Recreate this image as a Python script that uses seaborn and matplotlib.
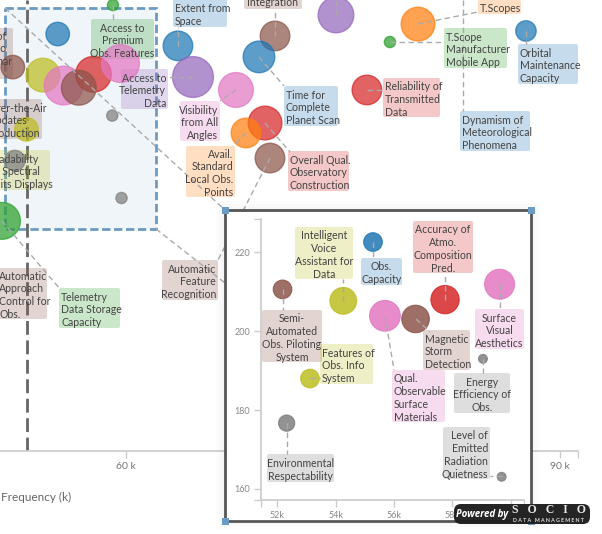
import pandas as pd
import seaborn as sns
import matplotlib.pyplot as plt
from matplotlib.patches import FancyBboxPatch, Rectangle
from matplotlib.transforms import Affine2D

# data
names = ["Access to Premium Obs. Features", "Telemetry Data Storage Capacity", "Extent from Space",
         "Access to Telemetry Data", "Visibility from All Angles", "Overall Qual. Observatory Construction",
         "Avail. Standard Local Obs. Points", "Automatic Feature Recognition", "Integration",
         "Time for Complete Planet Scan", "Unlabelled", "T.Scopes", "T.Scope Manufacturer Mobile App",
         "Orbital Maintenance Capacity", "Reliability of Transmitted Data",
         "Obs. Capacity", "Semi-Automated Obs. Piloting System", "Intelligent Voice Assistant for Data",
         "Qual. Observable Surface Materials", "Accuracy of Atmo. Composition Pred.", "Magnetic Storm Detection",
         "Surface Visual Aesthetics", "Energy Efficiency of Obs.", "Features of Obs. Info System",
         "Environmental Respectability", "Level of Emitted Radiation Quietness"]
frequency = [59.1, 51.43, 63.59, 64.63, 67.6, 69.61, 68.29, 69.95, 70.3, 69.19, 74.51, 80.18, 78.24, 87.64, 76.65,
             55.28, 52.18, 54.26, 55.69, 57.75, 56.74, 59.62, 59.05, 53.12, 52.32, 59.69]
score = [233.1, 154.8, 218.3, 207, 202.3, 190.3, 186.7, 177.6, 221.9, 214.3, 229.5, 226.2, 219.7, 223.7, 202.3,
         222.6, 210.6, 207.7, 203.9, 208, 203.1, 211.9, 193, 188, 176.7, 163.1]
weight = [12, 130, 84, 160, 116, 109, 84, 84, 84, 96, 122, 109, 12, 40, 84,
          53, 53, 109, 144, 122, 116, 137, 12, 53, 40, 12]
group = ["green", "green", "blue", "purple", "pink", "red", "orange", "brown", "brown", "blue", "purple",
         "orange", "green", "blue", "red",
         "blue", "brown", "olive", "pink", "red", "brown", "pink", "gray", "olive", "gray", "gray"]
mean_frequency = 53.16
main_ticks = [60, 90]
inset_xticks = [52, 54, 56, 58, 60]
inset_yticks = [160, 180, 200, 220]

colors = {"blue": "#1f77b4", "orange": "#ff7f0e", "green": "#2ca02c", "red": "#d62728", "purple": "#9467bd",
          "brown": "#8c564b", "pink": "#e377c2", "gray": "#7f7f7f", "olive": "#bcbd22"}

df = pd.DataFrame({"name": names, "frequency": frequency, "score": score, "weight": weight, "group": group})
zoomed = df.iloc[15:]

sns.set_theme(style="white")
plt.rcParams["font.family"] = ["Lato", "DejaVu Sans"]

W, H = 602, 534
fig = plt.figure(figsize=(W / 100, H / 100), dpi=100)
px = Affine2D().scale(1, -1).translate(0, H)  # picture pixels, y going down


def axes_box(left, top, right, bottom):
    return [left / W, (H - bottom) / H, (right - left) / W, (bottom - top) / H]


def label(ax, text, color, x0, y0, x1, y1, ha="left"):
    # rounded label box with its lines of text
    ax.add_patch(FancyBboxPatch((x0 + 2, y0 + 2), x1 - x0 - 4, y1 - y0 - 4, boxstyle="round,pad=2",
                                fc=colors[color], ec="none", alpha=0.25, transform=px, clip_on=False, zorder=2))
    tx = {"left": x0 + 2, "center": (x0 + x1) / 2, "right": x1 - 2}[ha]
    ax.text(tx, (y0 + y1) / 2, text, color="#444444", fontsize=7.6, ha=ha, va="center_baseline", ma=ha,
            linespacing=1.2, transform=px, clip_on=False, zorder=6)


def leader(ax, x0, y0, x1, y1):
    ax.plot([x0, x1], [y0, y1], color="#aaaaaa", lw=1, ls=(0, (4, 2.5)), transform=px, clip_on=False, zorder=5)


# main chart
ax = fig.add_axes(axes_box(0, 0, 578, 451))
ax.set_xlim(60 - 126 / 14.47, 60 + 452 / 14.47)
ax.set_ylim(163.1 - 253 / 2.756, 163.1 + 198 / 2.756)
ax.patch.set_alpha(0)

ax.add_patch(Rectangle((5, 8), 151, 221, fc="#4682b4", alpha=0.08, ec="none", transform=px, zorder=0.5))
ax.add_patch(Rectangle((5, 8), 151, 221, fc="none", ec="#6a9bc3", lw=2, ls=(0, (3, 1.3)), transform=px, zorder=0.6))
ax.axvline(mean_frequency, color="#666666", lw=2, ls=(0, (5, 2)), zorder=1)

sns.scatterplot(data=df, x="frequency", y="score", hue="group", palette=colors, size="weight",
                sizes=(0, 5400), size_norm=(0, 1000), alpha=0.72, edgecolor="face", linewidth=1,
                legend=False, ax=ax, zorder=3)

for a, b, c, d in [(113, 5, 113, 19), (178, 46, 178, 27), (275, 36, 275, 9), (193, 77, 168, 77),
                   (236, 90, 220, 101), (259, 57, 284, 86), (265, 123, 290, 152), (246, 133, 233, 146),
                   (270, 158, 217, 262), (367, 90, 384, 90), (418, 24, 478, 12), (390, 42, 444, 42),
                   (526, 31, 526, 44), (463, 0, 463, 111), (2, 221, 60, 289), (336, 15, 336, 0),
                   (5, 8, 225, 210), (156, 229, 225, 283)]:
    leader(ax, a, b, c, d)

label(ax, "Access to\nPremium\nObs. Features", "green", 91, 19, 154, 59, "center")
label(ax, "Extent from\nSpace", "blue", 173, -1, 227, 27)
label(ax, "Integration", "brown", 244, -5, 302, 9, "center")
label(ax, "Access to\nTelemetry\nData", "purple", 121, 69, 168, 109, "right")
label(ax, "Visibility\nfrom All\nAngles", "pink", 180, 101, 220, 141, "right")
label(ax, "Avail.\nStandard\nLocal Obs.\nPoints", "orange", 186, 146, 235, 197, "right")
label(ax, "Time for\nComplete\nPlanet Scan", "blue", 284, 86, 338, 126)
label(ax, "Overall Qual.\nObservatory\nConstruction", "red", 288, 151, 349, 191)
label(ax, "Reliability of\nTransmitted\nData", "red", 383, 78, 440, 117)
label(ax, "T.Scopes", "orange", 478, 0, 521, 14)
label(ax, "T.Scope\nManufacturer\nMobile App", "green", 444, 28, 507, 68)
label(ax, "Orbital\nMaintenance\nCapacity", "blue", 518, 44, 578, 84)
label(ax, "Dynamism of\nMeteorological\nPhenomena", "blue", 460, 111, 530, 151)
label(ax, "Telemetry\nData Storage\nCapacity", "green", 59, 288, 120, 328)
label(ax, "Automatic\nFeature\nRecognition", "brown", 162, 260, 218, 300, "right")
label(ax, "Automatic\nApproach\nControl for\nObs.", "brown", -3, 268, 47, 319)
label(ax, "Time of\nLand to\nTo Lunar\nA", "brown", -31, 28, 13, 79)
label(ax, "Over-the-Air\nUpdates\nProduction", "brown", -14, 99, 42, 139)
label(ax, "Readability\nof  Spectral\nUnits Displays", "olive", -15, 150, 50, 190)

ax.set_xticks(main_ticks, labels=[f"{t} k" for t in main_ticks])
ax.set_xticks([ax.get_xlim()[1]], minor=True)
ax.set_yticks([])
ax.tick_params(axis="x", which="both", length=5, width=1, color="#cccccc", labelsize=7.5,
               labelcolor="#777777", bottom=True, pad=3)
for side in ["top", "left", "right"]:
    ax.spines[side].set_visible(False)
ax.spines["bottom"].set_color("#cccccc")
ax.set_xlabel("Frequency (k)", x=0.002, ha="left", fontsize=8.5, color="#666666", labelpad=15)
ax.set_ylabel("")

# zoom window on top of the main chart
for i, off in enumerate([9, 6, 3]):
    fig.add_artist(Rectangle((225 - off, 210 - off), 306 + 2 * off, 311 + 2 * off, fc="#000000", alpha=0.012,
                             ec="none", transform=px, zorder=4 + i * 0.1))
fig.add_artist(Rectangle((225, 210), 306, 311, fc="white", ec="#555555", lw=2, transform=px, zorder=5))
for hx, hy in [(225, 210), (531, 210), (225, 521), (531, 521)]:
    fig.add_artist(Rectangle((hx - 3.5, hy - 3.5), 7, 7, fc="#6a9bc3", ec="none", transform=px, zorder=6))

axz = fig.add_axes(axes_box(261, 219, 524, 500), zorder=10)
axz.patch.set_alpha(0)
axz.set_xlim(52 - 16.3 / 29.17, 52 + 246.7 / 29.17)
axz.set_ylim(160 - 11 / 3.945, 220 + 33.3 / 3.945)

sns.scatterplot(data=zoomed, x="frequency", y="score", hue="group", palette=colors, size="weight",
                sizes=(0, 3400), size_norm=(0, 1000), alpha=0.85, edgecolor="face", linewidth=0.8,
                legend=False, ax=axz, zorder=3)

for a, b, c, d in [(373, 242, 373, 258), (283, 289, 283, 310), (343, 301, 343, 279), (385, 316, 394, 370),
                   (445, 300, 445, 273), (416, 319, 430, 332), (500, 284, 500, 309), (483, 359, 483, 373),
                   (310, 378, 320, 378), (287, 423, 287, 454), (502, 476, 490, 476)]:
    leader(axz, a, b, c, d)

label(axz, "Intelligent\nVoice\nAssistant for\nData", "olive", 295, 227, 353, 279, "center")
label(axz, "Obs.\nCapacity", "blue", 361, 258, 402, 285, "center")
label(axz, "Accuracy of\nAtmo.\nComposition\nPred.", "red", 413, 221, 473, 273, "center")
label(axz, "Semi-\nAutomated\nObs. Piloting\nSystem", "brown", 262, 310, 322, 362, "center")
label(axz, "Surface\nVisual\nAesthetics", "pink", 475, 309, 524, 349, "center")
label(axz, "Features of\nObs. Info\nSystem", "olive", 320, 344, 373, 384)
label(axz, "Magnetic\nStorm\nDetection", "brown", 423, 330, 470, 370)
label(axz, "Qual.\nObservable\nSurface\nMaterials", "pink", 392, 370, 445, 422)
label(axz, "Energy\nEfficiency of\nObs.", "gray", 454, 373, 510, 413, "center")
label(axz, "Level of\nEmitted\nRadiation\nQuietness", "gray", 443, 427, 490, 479, "right")
label(axz, "Environmental\nRespectability", "gray", 267, 454, 334, 482, "center")

axz.set_xticks(inset_xticks, labels=[f"{t}k" for t in inset_xticks])
axz.set_yticks(inset_yticks)
axz.set_xticks([axz.get_xlim()[0], axz.get_xlim()[1]], minor=True)
axz.set_yticks([axz.get_ylim()[0], axz.get_ylim()[1]], minor=True)
axz.tick_params(axis="both", which="both", length=5, width=1, color="#cccccc", labelsize=6.5,
                labelcolor="#888888", left=True, bottom=True, pad=3)
axz.spines["top"].set_visible(False)
axz.spines["right"].set_visible(False)
axz.spines["left"].set_color("#cccccc")
axz.spines["bottom"].set_color("#cccccc")
axz.set_xlabel("")
axz.set_ylabel("")

# vendor badge
fig.add_artist(FancyBboxPatch((461, 511), 122, 6, boxstyle="round,pad=7", fc="#1e1e1e", ec="none",
                              alpha=0.97, transform=px, zorder=20))
fig.text(482 / W, 1 - 515 / H, "Powered by", color="white", fontsize=7, style="italic", weight="bold",
         ha="center", va="center", zorder=21, family=["Open Sans", "DejaVu Sans"])
fig.text(549 / W, 1 - 510 / H, "S   O   C   I   O", color="#e8e8e8", fontsize=8.5, weight="bold",
         family="Liberation Serif", ha="center", va="center", zorder=21)
fig.text(548 / W, 1 - 520 / H, "D A T A   M A N A G E M E N T", color="#dddddd", fontsize=3.8, weight="bold",
         ha="center", va="center", zorder=21)

fig.savefig("out.png", dpi=100)
